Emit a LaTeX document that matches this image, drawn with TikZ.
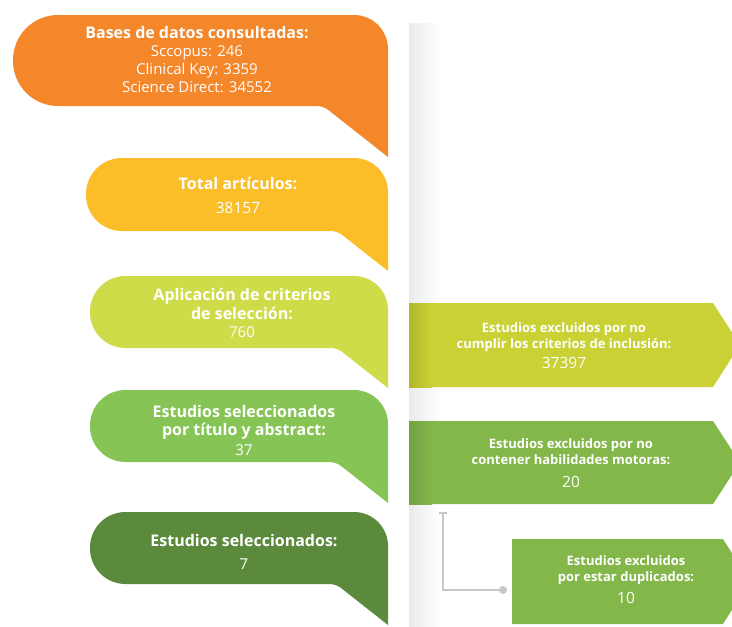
\documentclass[tikz,border=0pt]{standalone}
\usepackage{fontspec}
\setmainfont{Open Sans}

\definecolor{naranja}{HTML}{F5872B}
\definecolor{amarillo}{HTML}{FBBE29}
\definecolor{lima}{HTML}{CDDC48}
\definecolor{verde}{HTML}{86C555}
\definecolor{verdeosc}{HTML}{5B8A3D}
\definecolor{oliva}{HTML}{C9D134}
\definecolor{pasto}{HTML}{84B74A}
\definecolor{linea}{HTML}{C5C7CB}

\newcommand\titulo[1]{{\fontsize{16}{18.3}\selectfont\bfseries #1}}
\newcommand\cifra[1]{{\fontsize{15.5}{16}\selectfont #1}}

\tikzset{
  etapa/.style={text=white, align=center, inner sep=0pt, font=\fontsize{15}{18.3}\selectfont},
  excluido/.style={text=white, align=center, inner sep=0pt, font=\fontsize{13}{16}\selectfont\bfseries},
}

\begin{document}
\begin{tikzpicture}[x=1pt,y=-1pt]
    \useasboundingbox (0,0) rectangle (732,627);

    % franja gris
    \shade[left color=black!8, right color=white] (409,23) rectangle (440,627);

    % globos de la izquierda
    \foreach \l/\t/\b/\tip/\c in {13/15/106/157/naranja, 86/158/231/271/amarillo,
                                  90/276/348/388/lima, 90/390/462/503/verde,
                                  90/512/584/625/verdeosc}{%
        \pgfmathsetmacro\r{(\b-\t)/2-0.5}
        \pgfmathsetmacro\k{388-1.27*(\tip-\b)}
        \fill[\c] (250,\t) [rounded corners=34pt] -- (388,\t) [sharp corners]
            -- (388,\tip) [rounded corners=6pt] -- (\k,\b)
            [rounded corners=\r pt] -- (\l,\b) -- (\l,\t) -- cycle;}

    % cajas de la derecha
    \foreach \xa/\xb/\t/\b/\c in {409/713/303/387/oliva, 409/713/421/504/pasto,
                                  512/723/539/624/pasto}{%
        \fill[\c] (\xa,\t) -- (\xb,\t) -- (\xb+27,{(\t+\b)/2}) -- (\xb,\b)
            -- (\xa,\b) -- cycle;}
    \foreach \t/\b/\c in {303/387/oliva, 421/504/pasto}{%
        \shade[left color=\c!88!black, right color=\c] (409,\t) rectangle (432,\b);}

    \node[etapa] (bases) at (197,59.5) {\titulo{Bases de datos consultadas:}\\
        Sccopus: 246\\Clinical Key: 3359\\Science Direct: 34552};
    \node[etapa] (total) at (238,195.5) {\titulo{Total artículos:}\\[6pt]\cifra{38157}};
    \node[etapa] (criterios) at (242,313) {\titulo{Aplicación de criterios}\\
        \titulo{de selección:}\\760};
    \node[etapa] (titulo) at (244,430.5) {\titulo{Estudios seleccionados}\\
        \titulo{por título y abstract:}\\[2pt]37};
    \node[etapa] (final) at (244,552) {\titulo{Estudios seleccionados:}\\[4pt]7};

    \node[excluido] (inclusion) at (564,346) {Estudios excluidos por no\\
        cumplir los criterios de inclusión:\\[4pt]\cifra{\mdseries 37397}};
    \node[excluido] (motoras) at (571,463) {Estudios excluidos por no\\
        contener habilidades motoras:\\[7pt]\cifra{\mdseries 20}};
    \node[excluido] (duplicados) at (626,579.5) {Estudios excluidos\\
        por estar duplicados:\\[6pt]\cifra{\mdseries 10}};

    % conector hacia duplicados
    \coordinate (dupInicio) at (443,513);
    \coordinate (dupFin) at (503,590);
    \draw[linea, line width=1.5pt] (dupInicio) |- (dupFin);
    \draw[linea, line width=1.5pt] ([xshift=-4pt]dupInicio) -- ([xshift=4pt]dupInicio);
    \fill[linea] (dupFin) circle (4pt);
\end{tikzpicture}
\end{document}
